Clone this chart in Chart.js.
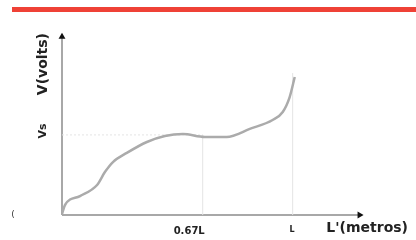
<!DOCTYPE html>
<html>
<head>
<meta charset="utf-8">
<script src="https://cdn.jsdelivr.net/npm/chart.js@4.4.0/dist/chart.umd.min.js"></script>
<style>
html, body { margin: 0; padding: 0; background: #fff; }
#wrap { position: relative; width: 416px; height: 240px; }
#bar { position: absolute; left: 12px; top: 7px; width: 404px; height: 5px; background: #ef4136; }
canvas { position: absolute; left: 0; top: 0; }
</style>
</head>
<body>
<div id="wrap">
  <div id="bar"></div>
  <canvas id="chart" width="416" height="240"></canvas>
</div>
<script>
// curve (x: L = 100, y: arbitrary volts scale 0..100)
const curveX = [0, 1.3, 7.8, 15.2, 18.6, 22.1, 28.1, 36.8, 44.6, 52.4, 61.9, 71.4, 81.4, 91.3, 95.7, 98.7, 100.9];
const curveY = [0.5, 5.5, 10.4, 16.5, 23.6, 29.1, 34.1, 40.1, 43.4, 44.5, 42.9, 42.9, 47.3, 52.2, 56.6, 64.8, 75.8];

const VS = 44;            // Vs level
const X_067L = 61;        // 0.67L mark
const X_L = 100;          // L mark
const L_LINE_TOP = 78;
const xAxisEnd = 129;
const yAxisEnd = 98;

const tickValues = [X_067L, X_L];
const tickLabels = ['0.67L', 'L'];

function pts(xs, ys) {
    return xs.map((x, i) => ({x: x, y: ys[i]}));
}

const guide = {borderColor: '#e4e4e4', borderWidth: 1, pointRadius: 0};
const axisStyle = {
    borderColor: '#a8a8a8', borderWidth: 2, pointStyle: 'triangle',
    pointBackgroundColor: '#111', pointBorderColor: '#111', pointBorderWidth: 0,
    pointRadius: ctx => ctx.dataIndex === 1 ? 4 : 0, clip: false
};

const textPlugin = {
    id: 'extraText',
    afterDraw(chart) {
        const {ctx, scales: {y}} = chart;
        ctx.save();
        ctx.fillStyle = '#222';
        ctx.font = 'bold 11px "DejaVu Sans"';
        ctx.textAlign = 'center';
        ctx.textBaseline = 'middle';
        ctx.translate(43, y.getPixelForValue(VS) - 4);
        ctx.rotate(-Math.PI / 2);
        ctx.fillText('Vs', 0, 0);
        ctx.restore();
        ctx.save();
        ctx.fillStyle = '#333';
        ctx.font = '9px "DejaVu Sans"';
        ctx.textAlign = 'center';
        ctx.textBaseline = 'middle';
        ctx.fillText('(', 13, 215);
        ctx.restore();
    }
};

new Chart(document.getElementById('chart'), {
    type: 'line',
    data: {
        datasets: [
            {data: pts(curveX, curveY), borderColor: '#ababab', borderWidth: 2.5, pointRadius: 0, cubicInterpolationMode: 'monotone'},
            Object.assign({data: pts([0, X_067L], [VS, VS]), borderDash: [2, 2]}, guide),
            Object.assign({data: pts([X_067L, X_067L], [0, VS])}, guide),
            Object.assign({data: pts([X_L, X_L], [0, L_LINE_TOP])}, guide),
            Object.assign({data: pts([0, xAxisEnd], [0, 0]), rotation: 90}, axisStyle),
            Object.assign({data: pts([0, 0], [0, yAxisEnd]), rotation: 0}, axisStyle)
        ]
    },
    options: {
        responsive: false,
        animation: false,
        layout: {padding: {top: 33, right: 8, left: 0, bottom: 0}},
        plugins: {legend: {display: false}, tooltip: {enabled: false}},
        scales: {
            x: {
                type: 'linear', min: 0, max: 150,
                grid: {display: false}, border: {display: false},
                afterBuildTicks: s => { s.ticks = tickValues.map(v => ({value: v})); },
                afterFit: s => { s.height = 25; },
                ticks: {
                    autoSkip: false, maxRotation: 0, align: 'end', padding: 2, labelOffset: 2,
                    color: '#222',
                    font: c => ({family: 'DejaVu Sans', weight: 'bold', size: c.index === 0 ? 10 : 8}),
                    callback: v => tickLabels[tickValues.indexOf(v)]
                },
                title: {
                    display: true, text: "L'(metros)", align: 'end', color: '#222',
                    font: {family: 'DejaVu Sans', weight: 'bold', size: 14},
                    padding: {top: 0, bottom: 3}
                }
            },
            y: {
                type: 'linear', min: 0, max: 100,
                grid: {display: false}, border: {display: false},
                ticks: {display: false},
                afterFit: s => { s.width = 62; },
                title: {
                    display: true, text: 'V(volts)', align: 'end', color: '#222',
                    font: {family: 'DejaVu Sans', weight: 'bold', size: 14},
                    padding: {top: 35, bottom: 0}
                }
            }
        }
    },
    plugins: [textPlugin]
});
</script>
</body>
</html>
